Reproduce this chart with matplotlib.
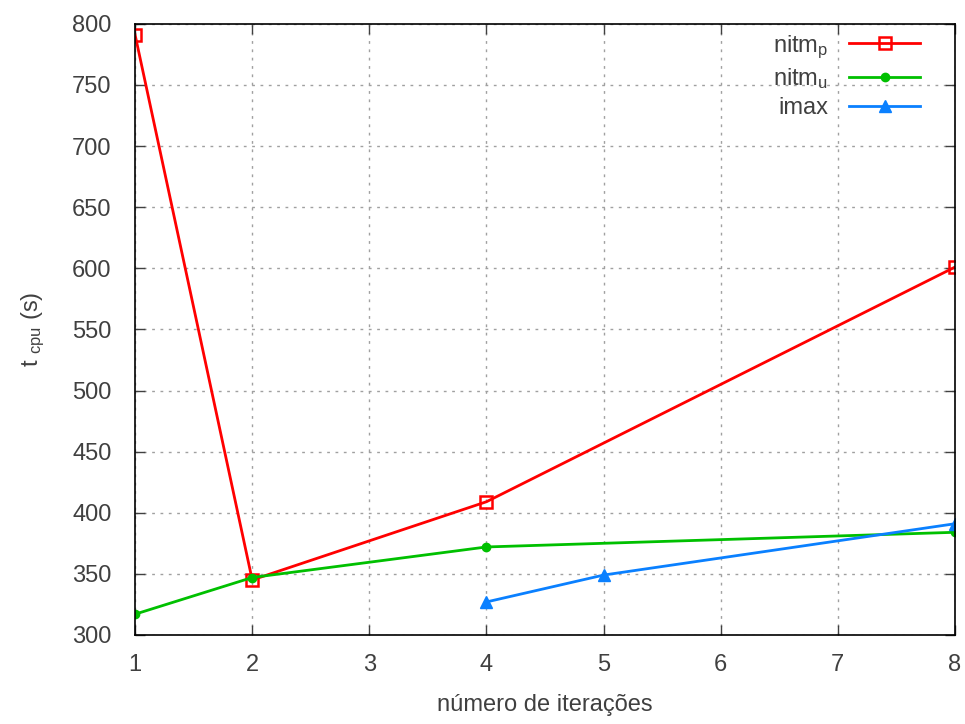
import matplotlib
matplotlib.use("Agg")
import matplotlib.pyplot as plt

plt.rcParams['font.family'] = ['Liberation Sans', 'DejaVu Sans']
plt.rcParams['mathtext.fontset'] = 'custom'
plt.rcParams['mathtext.rm'] = 'Liberation Sans'
plt.rcParams['mathtext.it'] = 'Liberation Sans'

# dados
x_p = [1, 2, 4, 8]
t_p = [791, 345, 409, 601]

x_u = [1, 2, 4, 8]
t_u = [317, 347, 372, 384]

x_imax = [4, 5, 8]
t_imax = [327, 349, 391]

xticks = [1, 2, 3, 4, 5, 6, 7, 8]
yticks = list(range(300, 801, 50))

txt = '#404040'

fig = plt.figure(figsize=(9.65, 7.24), dpi=100)
ax = fig.add_axes([0.14, 0.123, 0.8496, 0.844])

ax.plot(x_p, t_p, color='#ff0000', lw=2, marker='s', ms=8, mfc='none',
        mec='#ff0000', mew=1.8, label=r'nitm$_{\mathrm{p}}$')
ax.plot(x_u, t_u, color='#00c000', lw=2, marker='o', ms=6,
        label=r'nitm$_{\mathrm{u}}$')
ax.plot(x_imax, t_imax, color='#0a80ff', lw=2, marker='^', ms=9,
        label='imax')

ax.set_xlim(1, 8)
ax.set_ylim(300, 800)
ax.set_xticks(xticks)
ax.set_yticks(yticks)
ax.grid(True, color='#a0a0a0', ls=(0, (2, 4)), lw=1)
ax.tick_params(direction='in', length=7, width=1, top=True, right=True,
               labelsize=17, colors=txt, pad=17)
ax.tick_params(axis='x', pad=14)
for s in ax.spines.values():
    s.set_linewidth(1.2)

ax.set_xlabel('número de iterações', fontsize=17, color=txt, labelpad=13)
ax.set_ylabel(r't $_{\mathrm{cpu}}$ (s)', fontsize=17, color=txt, labelpad=18)

leg = ax.legend(loc='upper right', frameon=False, markerfirst=False,
                fontsize=17, handlelength=3.0, borderaxespad=0.2,
                labelspacing=0.25, handletextpad=0.9,
                bbox_to_anchor=(0.975, 1.008))
for t in leg.get_texts():
    t.set_color(txt)

fig.savefig('out.png', dpi=100)
